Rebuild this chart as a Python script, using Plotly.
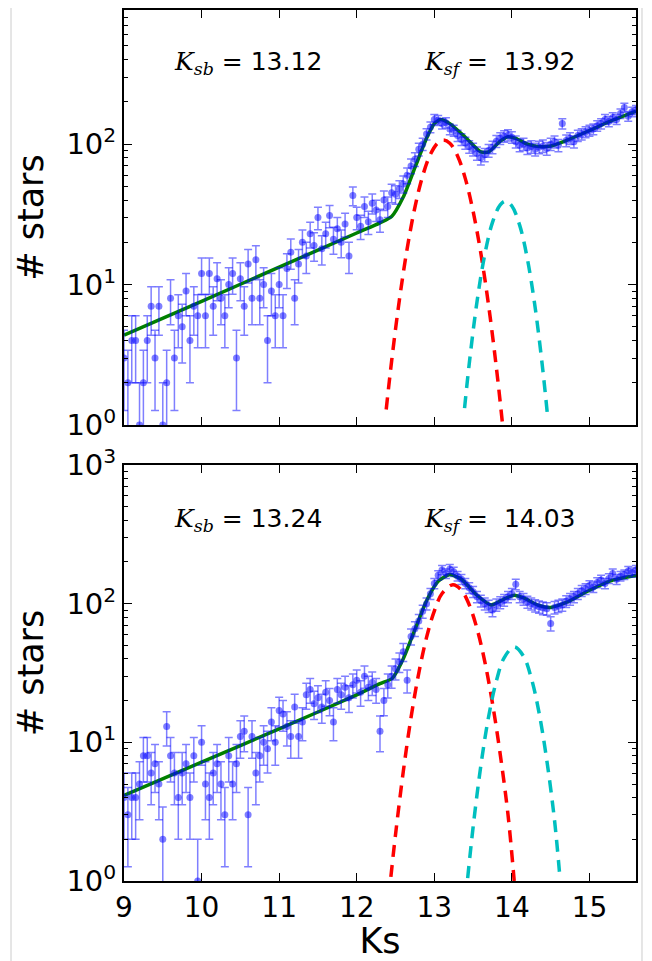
import numpy as np
import plotly.graph_objects as go
from plotly.subplots import make_subplots

# bin centres (Ks magnitude)
ks = [9.00, 9.05, 9.10, 9.15, 9.20, 9.25, 9.30, 9.35, 9.40, 9.45, 9.50, 9.55, 9.60, 9.65, 9.70,
      9.75, 9.80, 9.85, 9.90, 9.95, 10.00, 10.05, 10.10, 10.15, 10.20, 10.25, 10.30, 10.35, 10.40,
      10.45, 10.50, 10.55, 10.60, 10.65, 10.70, 10.75, 10.80, 10.85, 10.90, 10.95, 11.00, 11.05,
      11.10, 11.15, 11.20, 11.25, 11.30, 11.35, 11.40, 11.45, 11.50, 11.55, 11.60, 11.65, 11.70,
      11.75, 11.80, 11.85, 11.90, 11.95, 12.00, 12.05, 12.10, 12.15, 12.20, 12.25, 12.30, 12.35,
      12.40, 12.45, 12.50, 12.55, 12.60, 12.65, 12.70, 12.75, 12.80, 12.85, 12.90, 12.95, 13.00,
      13.05, 13.10, 13.15, 13.20, 13.25, 13.30, 13.35, 13.40, 13.45, 13.50, 13.55, 13.60, 13.65,
      13.70, 13.75, 13.80, 13.85, 13.90, 13.95, 14.00, 14.05, 14.10, 14.15, 14.20, 14.25, 14.30,
      14.35, 14.40, 14.45, 14.50, 14.55, 14.60, 14.65, 14.70, 14.75, 14.80, 14.85, 14.90, 14.95,
      15.00, 15.05, 15.10, 15.15, 15.20, 15.25, 15.30, 15.35, 15.40, 15.45, 15.50, 15.55, 15.60]

# star counts per bin, upper panel
counts_top = [3, 2, 4, 4, 1, 2, 4, 7, 3, 7, 1, 2, 8, 3, 6, 5, 9, 4, 7, 6,
              12, 6, 12, 7, 11, 8, 6, 10, 12, 3, 11, 7, 14, 8, 15, 8, 10, 4, 9, 6,
              10, 6, 13, 17, 8, 14, 20, 16, 23, 19, 30, 18, 23, 31, 21, 25, 20, 27, 16, 43,
              30, 26, 36, 28, 38, 34, 29, 40, 36, 45, 44, 48, 52, 60, 70, 78, 92, 100, 118, 132,
              150, 148, 140, 142, 128, 125, 115, 108, 102, 96, 92, 86, 80, 84, 90, 95, 105, 110, 114, 116,
              112, 104, 98, 100, 94, 96, 92, 95, 97, 93, 100, 104, 98, 140, 106, 110, 104, 115, 118, 122,
              125, 128, 135, 140, 150, 145, 155, 150, 165, 182, 158, 170, 175]

# star counts per bin, lower panel
counts_bot = [4, 3, 4, 4, 5, 8, 8, 6, 7, 5, 2, 13, 8, 6, 4, 6, 7, 4, 8, 1,
              10, 5, 4, 6, 7, 5, 3, 8, 5, 7, 11, 12, 3, 11, 6, 8, 10, 9, 14, 10,
              17, 16, 13, 11, 18, 11, 14, 22, 24, 19, 21, 18, 23, 20, 14, 24, 22, 25, 21, 26,
              28, 23, 30, 25, 27, 24, 12, 20, 26, 30, 34, 38, 45, 28, 58, 66, 75, 88, 100, 118,
              140, 160, 175, 165, 178, 170, 158, 150, 140, 130, 122, 112, 105, 100, 96, 90, 98, 102, 106, 112,
              118, 138, 112, 108, 103, 100, 97, 95, 93, 92, 72, 94, 96, 98, 104, 108, 112, 118, 124, 128,
              135, 132, 142, 148, 140, 152, 165, 150, 158, 162, 172, 168, 175]

# total fit (green)
fit_top_x = [9.0, 10.0, 11.0, 12.0, 12.3, 12.45, 12.6, 12.75, 12.9, 13.0, 13.08, 13.2, 13.4,
             13.6, 13.7, 13.85, 13.95, 14.05, 14.2, 14.35, 14.5, 14.7, 15.0, 15.3, 15.6]
fit_top_y = [4.37, 7.6, 13.3, 23.3, 27.5, 30.5, 42, 68, 110, 140, 150, 140, 112,
             88, 88, 105, 113, 110, 100, 96, 97, 106, 125, 148, 172]
fit_bot_x = [9.0, 10.0, 11.0, 12.0, 12.3, 12.46, 12.6, 12.75, 12.9, 13.05, 13.2, 13.35, 13.55,
             13.73, 13.9, 14.03, 14.15, 14.35, 14.5, 14.7, 15.0, 15.3, 15.6]
fit_bot_y = [4.15, 7.2, 12.5, 22, 26.5, 29, 40, 65, 105, 145, 162, 150, 115,
             98, 108, 115, 110, 97, 94, 102, 125, 148, 160]

# bright red clump component (red dashed)
rc_top_x = [12.38, 12.45, 12.55, 12.65, 12.75, 12.85, 12.95, 13.05, 13.12, 13.2, 13.3, 13.4,
            13.5, 13.6, 13.7, 13.8, 13.88]
rc_top_y = [1.29, 2.86, 7.78, 18.0, 35.5, 59.4, 84.7, 102.8, 107, 101.6, 82.4, 56.8,
            33.3, 16.7, 7.10, 2.57, 1.01]
rc_bot_x = [12.44, 12.5, 12.6, 12.7, 12.8, 12.9, 13.0, 13.1, 13.24, 13.35, 13.45, 13.55,
            13.65, 13.75, 13.85, 13.95, 14.03]
rc_bot_y = [1.07, 2.16, 6.15, 15.1, 31.6, 57.1, 88.5, 118.3, 137, 125, 98.2, 66.2,
            38.4, 19.1, 8.18, 3.01, 1.0]

# faint red clump component (cyan dashed)
fc_top_x = [13.39, 13.45, 13.55, 13.65, 13.75, 13.85, 13.92, 14.0, 14.1, 14.2, 14.3, 14.4, 14.46]
fc_top_y = [1.32, 2.72, 7.52, 16.3, 27.7, 37.0, 39.3, 36.3, 26.5, 15.2, 6.87, 2.43, 1.16]
fc_bot_x = [13.43, 13.5, 13.6, 13.7, 13.8, 13.9, 14.03, 14.15, 14.25, 14.35, 14.45, 14.55, 14.62]
fc_bot_y = [1.05, 2.44, 6.79, 15.3, 27.7, 40.7, 48.8, 41.8, 29.1, 16.4, 7.43, 2.73, 1.05]

labels_top = ["13.12", "13.92"]
labels_bot = ["13.24", "14.03"]

BLUE = "rgba(0,0,255,0.5)"
FONT = "DejaVu Sans"
fig = make_subplots(rows=2, cols=1, shared_xaxes=False)

panels = [
    (1, counts_top, fit_top_x, fit_top_y, rc_top_x, rc_top_y, fc_top_x, fc_top_y),
    (2, counts_bot, fit_bot_x, fit_bot_y, rc_bot_x, rc_bot_y, fc_bot_x, fc_bot_y),
]
for row, cnt, fx, fy, rx, ry, cx, cy in panels:
    cnt = np.array(cnt, dtype=float)
    err = np.sqrt(cnt)  # Poisson errors
    fig.add_trace(go.Scatter(x=fx, y=fy, mode="lines",
                             line=dict(color="#008000", width=3.5, shape="spline", smoothing=0.6)),
                  row=row, col=1)
    fig.add_trace(go.Scatter(
        x=ks, y=cnt, mode="markers",
        marker=dict(color=BLUE, size=7),
        error_y=dict(type="data", array=err, color=BLUE, thickness=1.5, width=4),
    ), row=row, col=1)
    fig.add_trace(go.Scatter(x=rx, y=ry, mode="lines",
                             line=dict(color="#ff0000", width=3.5, dash="12px,8px", shape="spline")),
                  row=row, col=1)
    fig.add_trace(go.Scatter(x=cx, y=cy, mode="lines",
                             line=dict(color="#00bfbf", width=3.5, dash="12px,8px", shape="spline")),
                  row=row, col=1)

axis_common = dict(showline=True, mirror="allticks", linecolor="black", linewidth=2,
                   ticks="inside", tickcolor="black", ticklen=8, tickwidth=1.2,
                   showgrid=False, zeroline=False, automargin=False)

xt = [9, 10, 11, 12, 13, 14, 15]
fig.update_xaxes(axis_common, range=[9, 15.6], tickvals=xt,
                 tickfont=dict(family=FONT, size=28, color="black"))
fig.update_xaxes(showticklabels=False, row=1, col=1)
fig.update_xaxes(title=dict(text="Ks", font=dict(family=FONT, size=35, color="black"), standoff=2),
                 row=2, col=1)

ylog = dict(type="log", tickvals=[1, 10, 100, 1000],
            ticktext=["10<sup>0</sup>", "10<sup>1</sup>", "10<sup>2</sup>", "10<sup>3</sup>"],
            tickfont=dict(family=FONT, size=29, color="black"),
            minor=dict(ticks="inside", ticklen=4, tickcolor="black", dtick="D1"),
            title=dict(text="# stars", font=dict(family=FONT, size=35, color="black"), standoff=12))
fig.update_yaxes(axis_common)
fig.update_yaxes(ylog)
fig.update_yaxes(range=[0, 2.955], row=1, col=1)
fig.update_yaxes(range=[0, 3], row=2, col=1)

# page body adds 8px, so figure is 8px smaller than the window
fig.update_layout(
    width=644, height=953,
    margin=dict(l=116, r=16, t=2, b=80),
    plot_bgcolor="white", paper_bgcolor="white",
    showlegend=False,
    xaxis=dict(domain=[0, 1]), xaxis2=dict(domain=[0, 1]),
    yaxis=dict(domain=[0.5235, 1]), yaxis2=dict(domain=[0, 0.4776]),
)

# parameter labels, K in a serif italic like mathtext
serif_k = "<span style='font-family:DejaVu Serif'><i>K</i></span>"
for ref, lab, yv in [("", labels_top, 2.58), ("2", labels_bot, 2.60)]:
    fig.add_annotation(xref="x" + ref, yref="y" + ref, x=10.6, y=yv, showarrow=False,
                       text=serif_k + "<sub><span style='font-family:DejaVu Serif'><i>sb</i></span></sub> = " + lab[0],
                       font=dict(family=FONT, size=25, color="black"))
    fig.add_annotation(xref="x" + ref, yref="y" + ref, x=13.85, y=yv, showarrow=False,
                       text=serif_k + "<sub><span style='font-family:DejaVu Serif'><i>sf</i></span></sub> =  " + lab[1],
                       font=dict(family=FONT, size=25, color="black"))

# light frame around the figure
fig.add_shape(type="rect", xref="paper", yref="paper", x0=-0.2207, x1=1.0117, y0=-0.2, y1=1.02,
              line=dict(color="#cccccc", width=1), layer="below")

fig.write_html("out.html")
